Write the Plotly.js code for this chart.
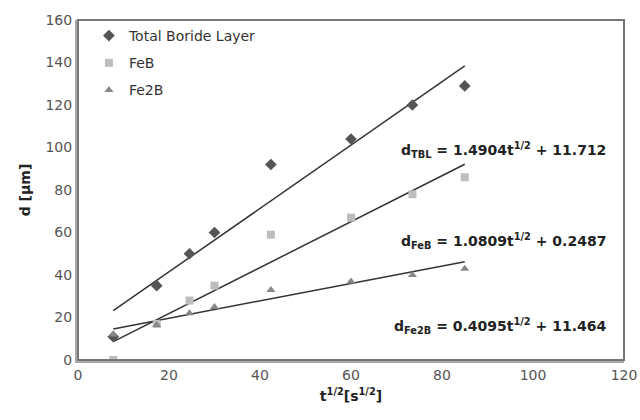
<!DOCTYPE html>
<html><head><meta charset="utf-8">
<script src="https://cdn.plot.ly/plotly-3.0.1.min.js"></script>
<style>html,body{margin:0;padding:0;background:#fff}#c{width:640px;height:420px}</style>
</head><body><div id="c"></div>
<script>
const xVals = [7.75, 17.3, 24.5, 30, 42.4, 60, 73.5, 85];
const tbl = [11, 35, 50, 60, 92, 104, 120, 129];
const feb = [0, 17, 28, 35, 59, 67, 78, 86];
const fe2b = [12, 16.5, 22, 25, 33, 37, 40, 43];
const seriesNames = ["Total Boride Layer", "FeB", "Fe2B"];
const fitSlope = [1.4904, 1.0809, 0.4095];
const fitIntercept = [11.712, 0.2487, 11.464];
const fitLabels = [
  "<b>d<sub>TBL</sub> = 1.4904t<sup>1/2</sup> + 11.712</b>",
  "<b>d<sub>FeB</sub> = 1.0809t<sup>1/2</sup> + 0.2487</b>",
  "<b>d<sub>Fe2B</sub> = 0.4095t<sup>1/2</sup> + 11.464</b>"
];
const xTicks = [0, 20, 40, 60, 80, 100, 120];
const yTicks = [0, 20, 40, 60, 80, 100, 120, 140, 160];

const ys = [tbl, feb, fe2b];
const symbols = ["diamond", "square", "triangle-up"];
const colors = ["#555555", "#bdbdbd", "#888888"];
const sizes = [9, 8, 8];
const traces = [];
const xr = [xVals[0], xVals[xVals.length - 1]];
for (let i = 0; i < 3; i++) {
  traces.push({
    x: xr, y: xr.map(v => fitSlope[i] * v + fitIntercept[i]),
    mode: "lines", line: {color: "#333", width: 1.5}, showlegend: false, hoverinfo: "skip"
  });
}
for (let i = 0; i < 3; i++) {
  traces.push({
    x: xVals, y: ys[i], name: seriesNames[i], mode: "markers", legendgroup: "g" + i,
    marker: {symbol: symbols[i], color: colors[i], size: sizes[i]}
  });
}
const annY = [99, 56, 16];
const annotations = fitLabels.map((t, i) => ({
  x: 116.5, y: annY[i], xref: "x", yref: "y", text: t, showarrow: false,
  xanchor: "right", yanchor: "middle",
  font: {family: "DejaVu Sans, sans-serif", size: 14, color: "#222"}
}));
const layout = {
  width: 640, height: 420,
  margin: {l: 78, r: 16, t: 20, b: 60},
  paper_bgcolor: "#fff", plot_bgcolor: "#fff",
  font: {family: "DejaVu Sans, sans-serif", size: 14, color: "#555"},
  xaxis: {
    range: [0, 120], tickvals: xTicks, showgrid: false, zeroline: false,
    showline: true, linecolor: "#aaa", linewidth: 3, ticks: "",
    title: {text: "<b>t<sup>1/2</sup>[s<sup>1/2</sup>]</b>", font: {size: 14, color: "#222"}, standoff: 10}
  },
  yaxis: {
    range: [0, 160], tickvals: yTicks, showgrid: false, zeroline: false,
    showline: true, linecolor: "#aaa", linewidth: 3, ticks: "",
    title: {text: "<b>d [μm]</b>", font: {size: 14, color: "#222"}, standoff: 12}
  },
  shapes: [{type: "rect", xref: "paper", yref: "paper", x0: 0, x1: 1, y0: 0, y1: 1,
    line: {color: "#777", width: 2}}],
  legend: {x: 0.02, y: 1.0, xanchor: "left", yanchor: "top", bgcolor: "rgba(0,0,0,0)",
    font: {size: 14, color: "#333"}, itemwidth: 30, tracegroupgap: 6},
  annotations: annotations,
  showlegend: true
};
Plotly.newPlot("c", traces, layout, {displayModeBar: false, staticPlot: true});
</script></body></html>
